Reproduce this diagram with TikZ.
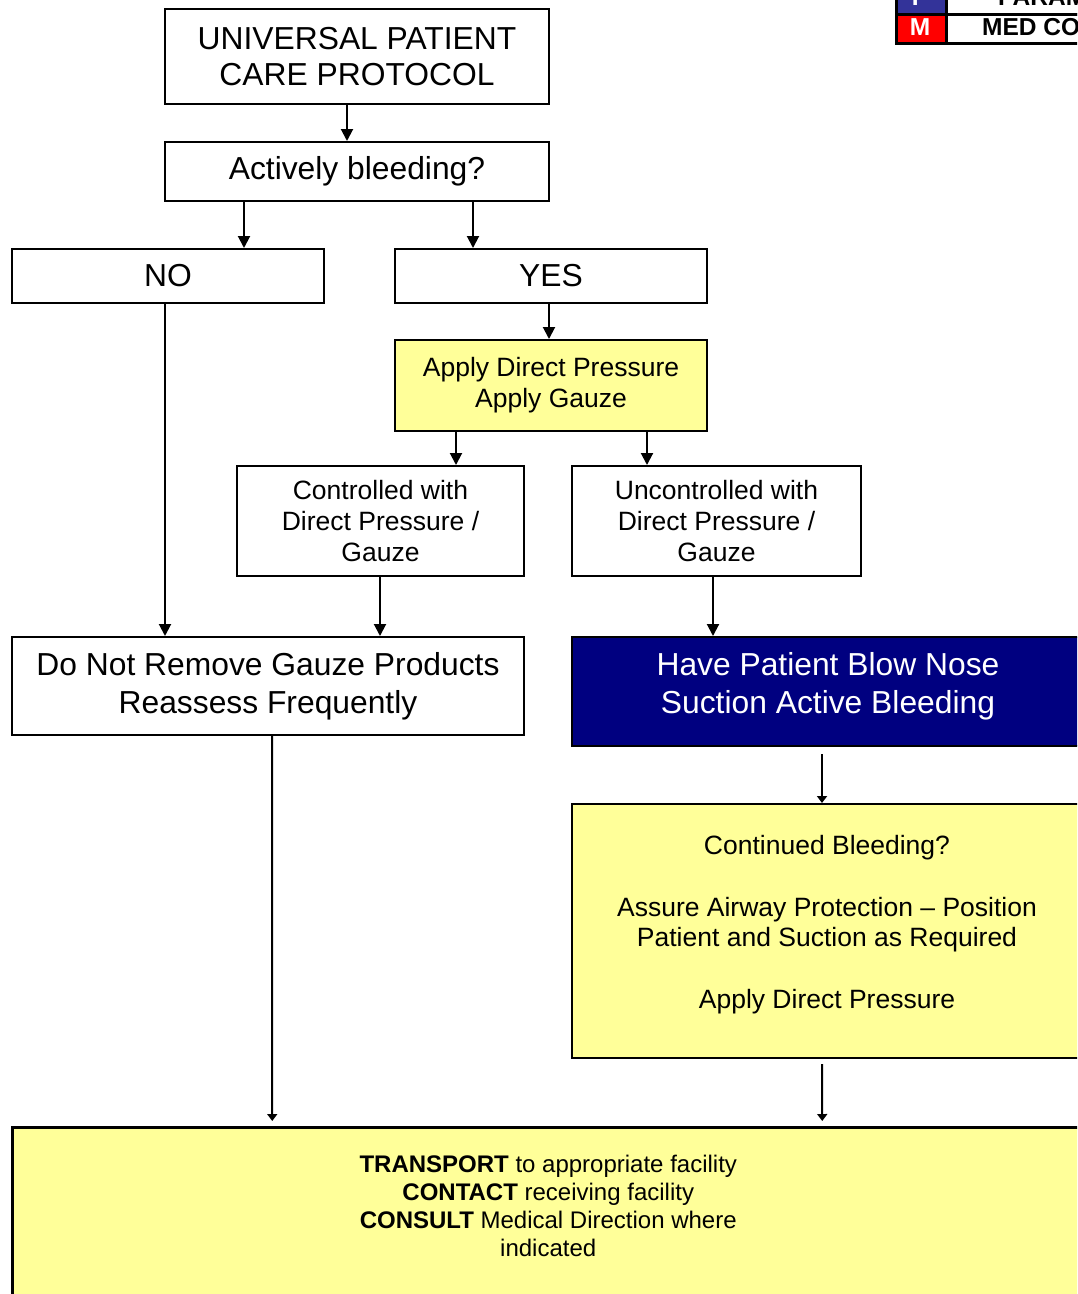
\documentclass[tikz,border=0pt]{standalone}
\usepackage{fontspec}
\setmainfont{Liberation Sans}
\usetikzlibrary{arrows.meta}
\definecolor{pale}{HTML}{FFFF99}
\definecolor{navy}{HTML}{000080}
\definecolor{legblue}{HTML}{333399}
\definecolor{legred}{HTML}{FF0000}
\begin{document}
\begin{tikzpicture}[x=1pt,y=-1pt,
  box/.style={draw, line width=2pt, inner sep=0pt, align=center, anchor=north west},
  big/.style={font=\fontsize{31.8}{36}\selectfont},
  bigb/.style={font=\fontsize{31.8}{38}\selectfont},
  mid/.style={font=\fontsize{26.5}{31}\selectfont},
  arr/.style={line width=2pt, -{Triangle[width=12pt,length=12pt]}},
  arrs/.style={line width=2pt, -{Triangle[width=10pt,length=7pt]}},
  leg/.style={draw, line width=2.5pt, anchor=north west, inner sep=0pt},
  legfont/.style={font=\fontsize{24.5}{24.5}\bfseries\selectfont},
]
\useasboundingbox (0,0) rectangle (1077,1294);
\clip (0,0) rectangle (1077,1294);

% legend
\node[leg, fill=legblue, minimum width=50pt, minimum height=35pt] (lp) at (895,-22) {};
\node[leg, fill=legred, minimum width=50pt, minimum height=29pt] (lm) at (895,13) {};
\node[leg, fill=white, minimum width=160pt, minimum height=35pt] (lpt) at (945,-22) {};
\node[leg, fill=white, minimum width=160pt, minimum height=29pt] (lmt) at (945,13) {};
\node[text=white, legfont] (lpl) at (920,-3) {P};
\node[text=white, legfont] (lml) at (920,27.5) {M};
\node[anchor=west, inner sep=0pt, legfont] (lptx) at (998,-3) {PARAMEDIC};
\node[anchor=west, inner sep=0pt, legfont] (lmtx) at (982,27.5) {MED CONTROL};

% boxes
\node[box, big, minimum width=384pt, minimum height=95pt] (u) at (164,8) {UNIVERSAL PATIENT\\CARE PROTOCOL};
\node[box, big, minimum width=384pt, minimum height=59pt] (ab) at (164,141) {Actively bleeding?};
\node[box, big, minimum width=312pt, minimum height=54pt] (no) at (11,248) {NO};
\node[box, big, minimum width=312pt, minimum height=54pt] (yes) at (394,248) {YES};
\node[box, mid, fill=pale, minimum width=312pt, minimum height=91pt] (adp) at (394,339) {Apply Direct Pressure\\Apply Gauze};
\node[box, mid, minimum width=287pt, minimum height=110pt] (ctl) at (236,465) {Controlled with\\Direct Pressure /\\Gauze};
\node[box, mid, minimum width=289pt, minimum height=110pt] (unc) at (571,465) {Uncontrolled with\\Direct Pressure /\\Gauze};
\node[box, bigb, minimum width=512pt, minimum height=98pt] (dnr) at (11,636) {Do Not Remove Gauze Products\\Reassess Frequently};
\node[box, bigb, fill=navy, text=white, minimum width=512pt, minimum height=109pt, text depth=18pt] (blow) at (571,636) {Have Patient Blow Nose\\Suction Active Bleeding};
\node[box, font=\fontsize{26.5}{30.7}\selectfont, fill=pale, minimum width=510pt, minimum height=254pt, text depth=18pt] (cont) at (571,803)
  {Continued Bleeding?\\[30.7pt]Assure Airway Protection -- Position\\Patient and Suction as Required\\[30.7pt]Apply Direct Pressure};
\node[box, font=\fontsize{24}{28}\selectfont, fill=pale, line width=2.5pt, minimum width=1072pt, minimum height=170pt, text depth=13pt] (tr) at (11,1126)
  {\textbf{TRANSPORT} to appropriate facility\\\textbf{CONTACT} receiving facility\\\textbf{CONSULT} Medical Direction where\\indicated};

% connectors
\draw[arr] ([xshift=-10pt]u.south) -- ([xshift=-10pt]ab.north);
\draw[arr] ([xshift=-113pt]ab.south) -- ([xshift=76pt]no.north);
\draw[arr] ([xshift=116pt]ab.south) -- ([xshift=-78pt]yes.north);
\draw[arr] ([xshift=-2pt]yes.south) -- ([xshift=-2pt]adp.north);
\draw[arr] ([xshift=-95pt]adp.south) -- ([xshift=75.5pt]ctl.north);
\draw[arr] ([xshift=96pt]adp.south) -- ([xshift=-69.5pt]unc.north);
\draw[arr] ([xshift=-3pt]no.south) -- ([xshift=-103pt]dnr.north);
\draw[arr] ([xshift=-0.5pt]ctl.south) -- ([xshift=112pt]dnr.north);
\draw[arr] ([xshift=-3.5pt]unc.south) -- ([xshift=-115pt]blow.north);
\draw[arrs] ([xshift=-6pt,yshift=-7pt]blow.south) -- ([xshift=-5pt]cont.north);
\draw[arrs] ([xshift=-5pt,yshift=-5pt]cont.south) -- ([xshift=274pt,yshift=5pt]tr.north);
\draw[arrs] ([xshift=4pt]dnr.south) -- ([xshift=-276pt,yshift=5pt]tr.north);
\end{tikzpicture}
\end{document}
